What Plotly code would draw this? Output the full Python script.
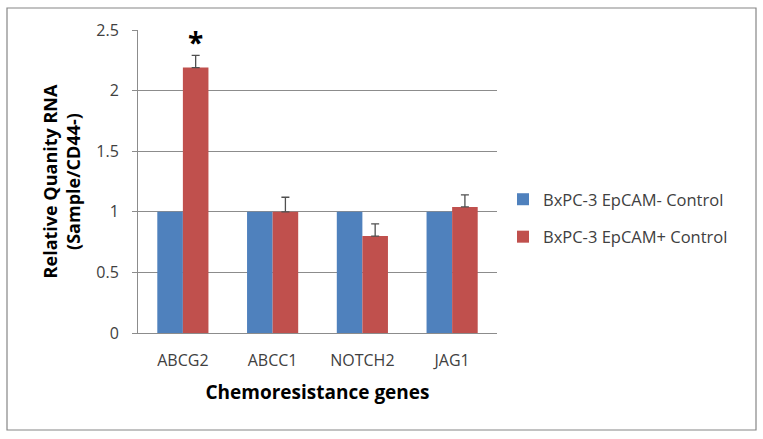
import plotly.graph_objects as go

categories = ["ABCG2", "ABCC1", "NOTCH2", "JAG1"]
neg_values = [1.0, 1.0, 1.0, 1.0]
pos_values = [2.19, 1.0, 0.80, 1.04]
pos_errors = [0.10, 0.12, 0.10, 0.10]
series_names = ["BxPC-3 EpCAM- Control", "BxPC-3 EpCAM+ Control"]
y_ticks = [0, 0.5, 1, 1.5, 2, 2.5]
y_tick_text = ["0", "0.5", "1", "1.5", "2", "2.5"]

FONT = "Open Sans"
GREY_TXT = "#404040"
GRID = "#8c8c8c"

fig = go.Figure()
fig.add_trace(go.Bar(
    x=categories, y=neg_values, name=series_names[0],
    marker=dict(color="#4F81BD", line=dict(width=0)),
    legendgroup="a",
))
fig.add_trace(go.Bar(
    x=categories, y=pos_values, name=series_names[1],
    marker=dict(color="#C0504D", line=dict(width=0)),
    error_y=dict(type="data", array=pos_errors, arrayminus=[0]*len(pos_errors),
                 symmetric=False, color="#505050", thickness=1.3, width=4),
    legendgroup="b",
))

fig.add_annotation(x=categories[0], y=2.40, text="<b>*</b>", showarrow=False,
                   xshift=13, font=dict(family=FONT, size=28, color="#000000"))

# outer frame
L, R, T, B = 138, 497, 30, 333
W, H = 763, 439
def px_x(p): return (p - L) / (R - L)
def px_y(p): return (B - p) / (B - T)
fig.add_shape(type="rect", xref="paper", yref="paper",
              x0=px_x(7), x1=px_x(756), y0=px_y(8), y1=px_y(430),
              line=dict(color="#868686", width=1.2), fillcolor="rgba(0,0,0,0)")

fig.update_layout(
    width=W, height=H,
    margin=dict(l=L, r=W - R, t=T, b=H - B, pad=0),
    paper_bgcolor="white", plot_bgcolor="white",
    barmode="group", bargap=0.43, bargroupgap=0,
    font=dict(family=FONT, color=GREY_TXT, size=16),
    showlegend=True,
    legend=dict(x=px_x(503), y=px_y(218), xanchor="left", yanchor="middle",
                font=dict(family=FONT, size=16.5, color="#404040"),
                tracegroupgap=13, itemwidth=30, bgcolor="rgba(0,0,0,0)"),
    xaxis=dict(
        showline=True, linecolor=GRID, linewidth=1,
        ticks="", showgrid=False,
        tickfont=dict(family=FONT, size=16, color=GREY_TXT),
        ticklabelstandoff=13,
        title=dict(text="<b>Chemoresistance genes</b>",
                   font=dict(family=FONT, size=19, color="#000000"), standoff=15),
    ),
    yaxis=dict(
        range=[0, 2.5], tickvals=y_ticks, ticktext=y_tick_text,
        showline=True, linecolor=GRID, linewidth=1,
        ticks="outside", ticklen=5, tickcolor=GRID,
        showgrid=True, gridcolor=GRID, gridwidth=1,
        zeroline=False, ticklabelstandoff=10,
        tickfont=dict(family=FONT, size=16, color=GREY_TXT),
        title=dict(text="<b>Relative Quanity RNA<br>(Sample/CD44-)</b>",
                   font=dict(family=FONT, size=18, color="#000000"), standoff=10),
    ),
)

fig.write_html("out.html", config={"displayModeBar": False},
               post_script="document.body.style.margin='0';document.body.style.padding='0';")
